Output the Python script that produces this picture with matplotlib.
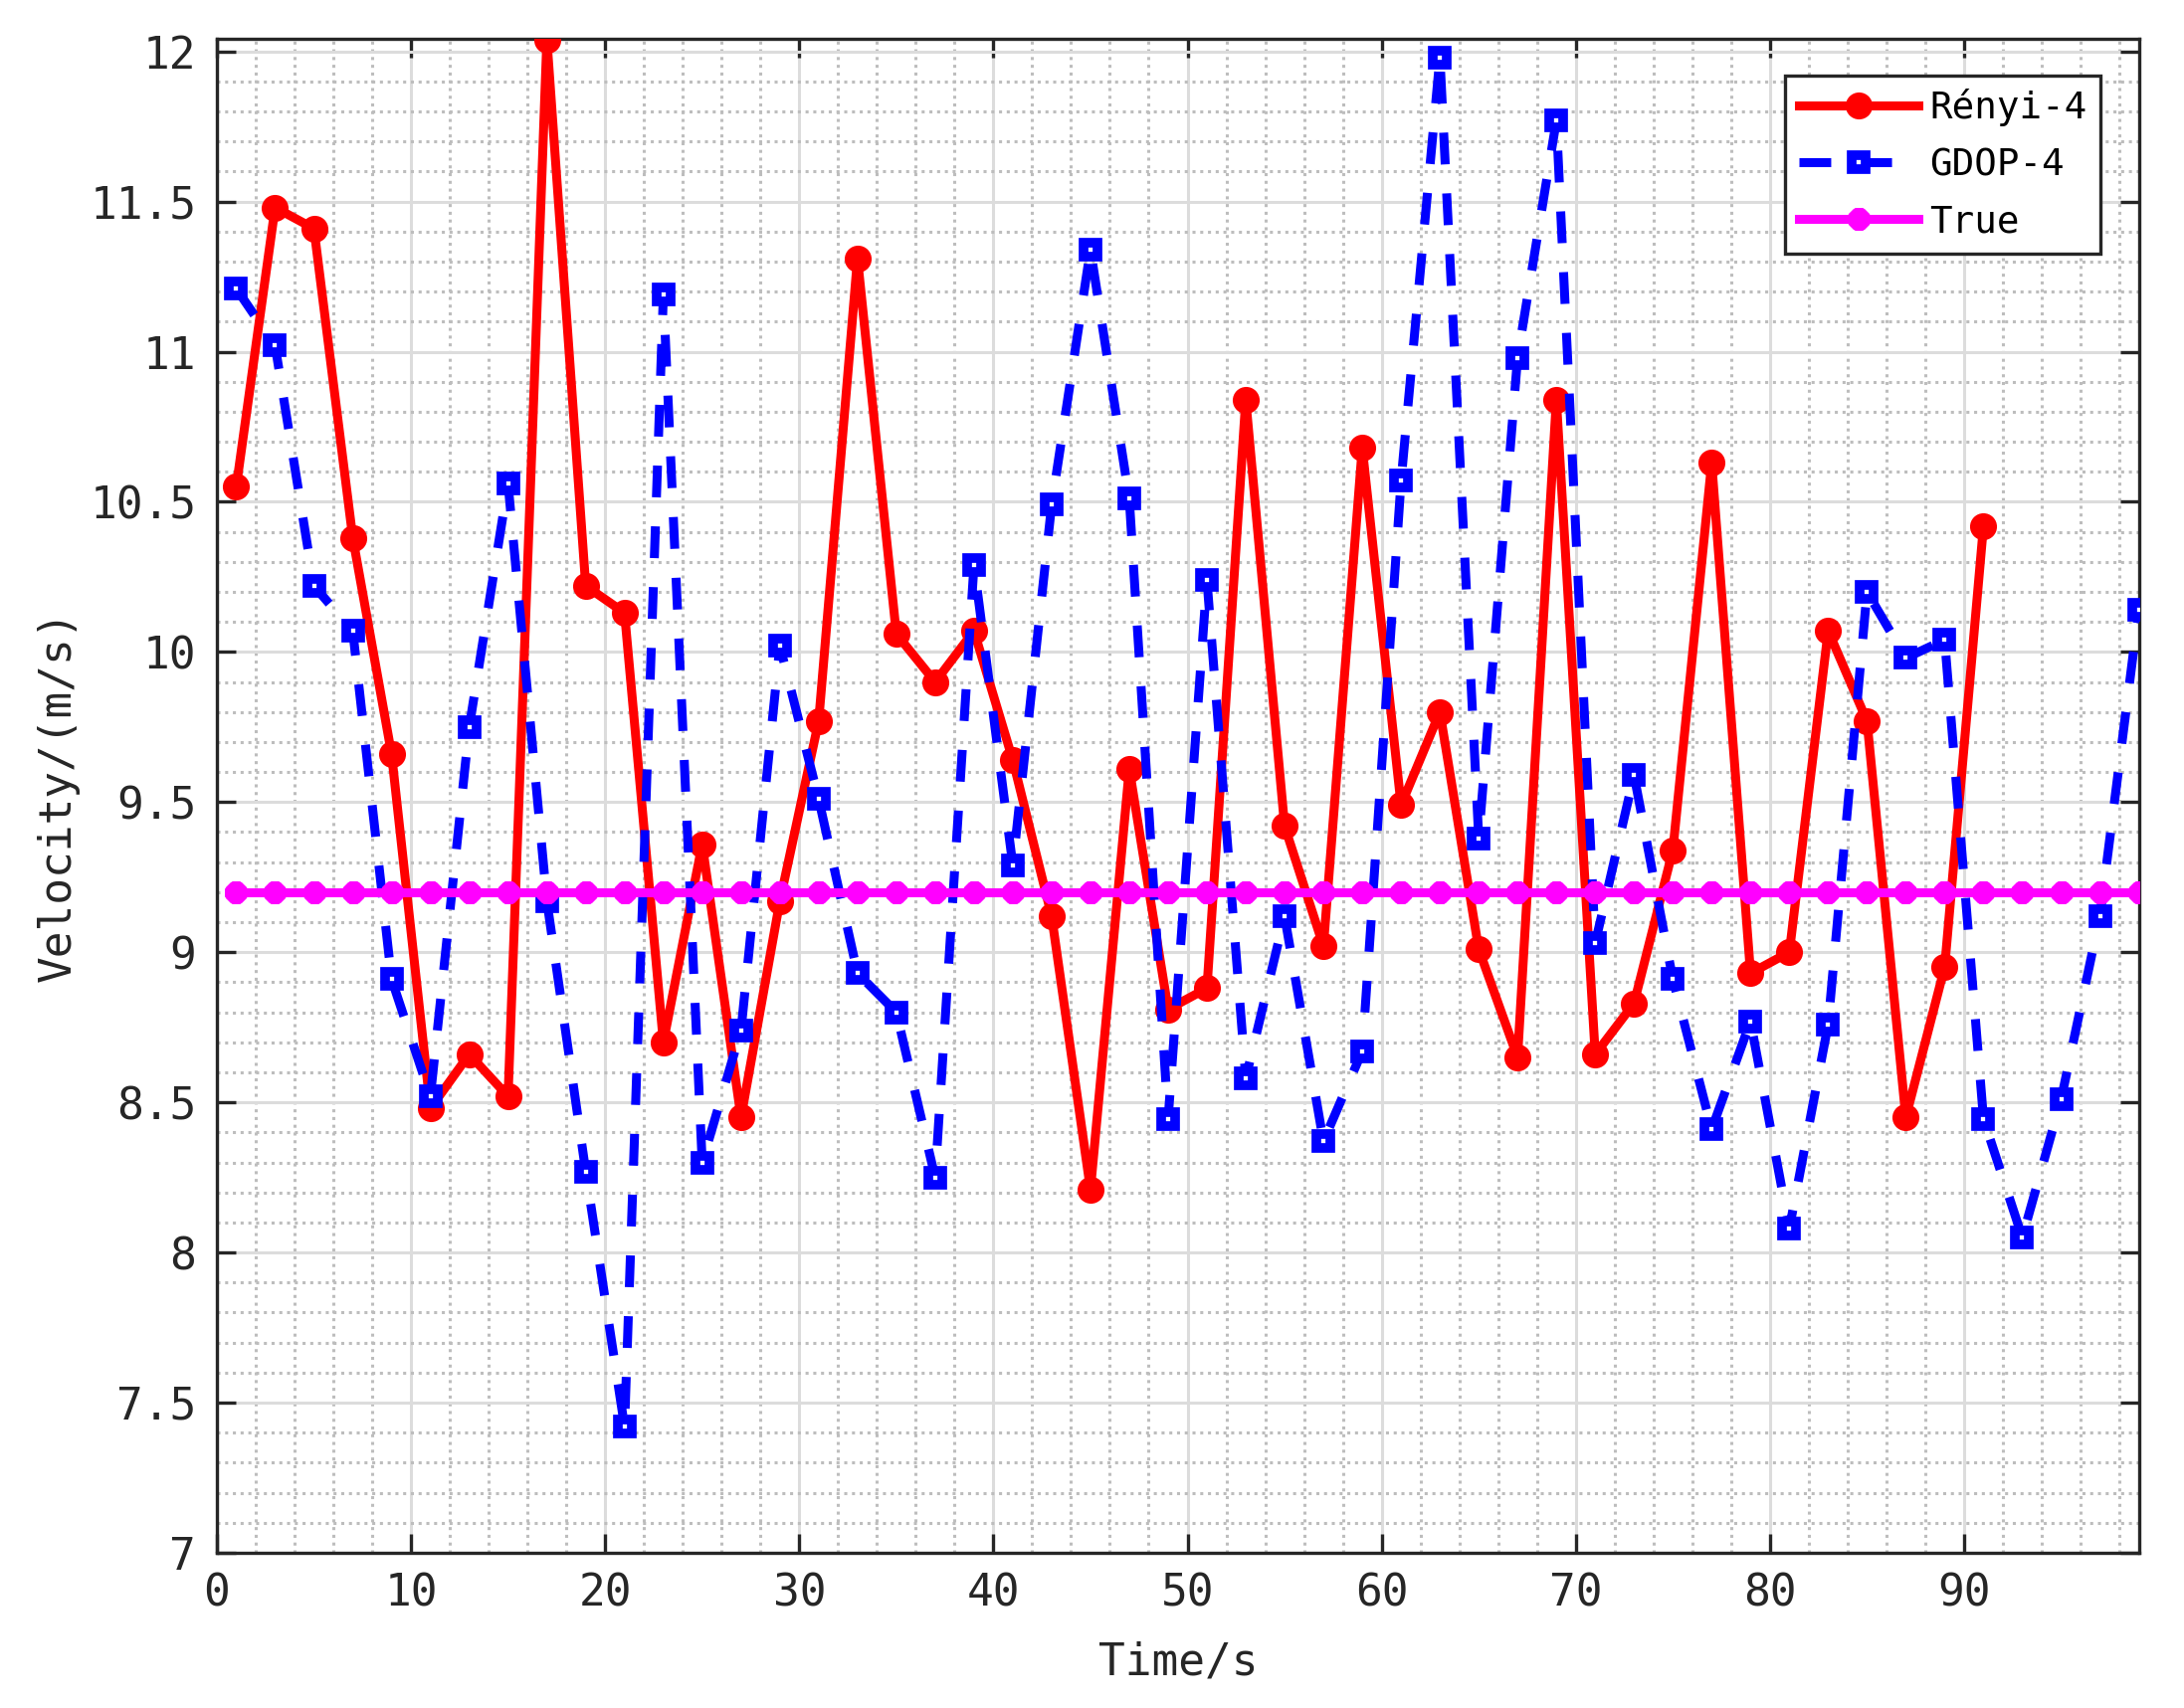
import matplotlib
matplotlib.use('Agg')
import matplotlib.pyplot as plt
from matplotlib.ticker import MultipleLocator, FormatStrFormatter

time_renyi = [1, 3, 5, 7, 9, 11, 13, 15, 17, 19, 21, 23, 25, 27, 29, 31, 33, 35, 37, 39,
              41, 43, 45, 47, 49, 51, 53, 55, 57, 59, 61, 63, 65, 67, 69, 71, 73, 75, 77, 79,
              81, 83, 85, 87, 89, 91]
renyi_v = [10.55, 11.48, 11.41, 10.38, 9.66, 8.48, 8.66, 8.52, 12.04, 10.22,
           10.13, 8.70, 9.36, 8.45, 9.17, 9.77, 11.31, 10.06, 9.90, 10.07,
           9.64, 9.12, 8.21, 9.61, 8.81, 8.88, 10.84, 9.42, 9.02, 10.68,
           9.49, 9.80, 9.01, 8.65, 10.84, 8.66, 8.83, 9.34, 10.63, 8.93,
           9.00, 10.07, 9.77, 8.45, 8.95, 10.42]

time_all = [1, 3, 5, 7, 9, 11, 13, 15, 17, 19, 21, 23, 25, 27, 29, 31, 33, 35, 37, 39,
            41, 43, 45, 47, 49, 51, 53, 55, 57, 59, 61, 63, 65, 67, 69, 71, 73, 75, 77, 79,
            81, 83, 85, 87, 89, 91, 93, 95, 97, 99]
gdop_v = [11.21, 11.02, 10.22, 10.07, 8.91, 8.52, 9.75, 10.56, 9.17, 8.27,
          7.42, 11.19, 8.30, 8.74, 10.02, 9.51, 8.93, 8.80, 8.25, 10.29,
          9.29, 10.49, 11.34, 10.51, 8.445, 10.24, 8.58, 9.12, 8.37, 8.67,
          10.57, 11.98, 9.38, 10.98, 11.77, 9.03, 9.59, 8.91, 8.41, 8.77,
          8.08, 8.76, 10.20, 9.98, 10.04, 8.445, 8.05, 8.51, 9.12, 10.14]
true_v = [9.2] * len(time_all)

labels = ['Rényi-4', 'GDOP-4', 'True']
x_ticks = [0, 10, 20, 30, 40, 50, 60, 70, 80, 90]
y_ticks = [7, 7.5, 8, 8.5, 9, 9.5, 10, 10.5, 11, 11.5, 12]

plt.rcParams['lines.scale_dashes'] = False
mono = ['DejaVu Sans Mono']
tick_col = '#262626'

fig = plt.figure(figsize=(21.95, 17.17), dpi=100)
ax = fig.add_axes([0.0993, 0.0909, 0.880, 0.8864])

ax.plot(time_renyi, renyi_v, color='#ff0000', lw=6.5, marker='o', ms=18,
        mfc='#ff0000', mec='#ff0000', mew=1.5, label=labels[0], zorder=3)
ax.plot(time_all, gdop_v, color='#0000ff', lw=6.5, dashes=(23, 21), marker='s', ms=9.5,
        mfc='white', mec='#0000ff', mew=7, label=labels[1], zorder=4)
ax.plot(time_all, true_v, color='#ff00ff', lw=6.5, marker=(8, 2, 0), ms=16,
        mec='#ff00ff', mew=6, label=labels[2], zorder=5)

ax.set_xlim(0, 99)
ax.set_ylim(7, 12.042)
ax.set_xticks(x_ticks)
ax.set_yticks(y_ticks)
ax.yaxis.set_major_formatter(FormatStrFormatter('%g'))
ax.xaxis.set_minor_locator(MultipleLocator(2))
ax.yaxis.set_minor_locator(MultipleLocator(0.1))

ax.grid(which='major', color='#dcdcdc', lw=2.2, ls='-', zorder=0)
ax.grid(which='minor', color='#bdbdbd', lw=2.2, ls=(0, (2.2, 3.4)), zorder=0)
ax.set_axisbelow(True)

ax.tick_params(which='major', direction='in', length=13.7, width=2.4, color=tick_col,
               top=True, right=True, labelcolor=tick_col)
ax.tick_params(which='minor', length=0, top=True, right=True)
ax.tick_params(axis='y', pad=15)
ax.tick_params(axis='x', pad=14)
for lab in ax.get_yticklabels():
    lab.set_family(mono)
    lab.set_fontsize(32)
for lab in ax.get_xticklabels():
    lab.set_family(mono)
    lab.set_fontsize(32)
for sp in ax.spines.values():
    sp.set_linewidth(2.4)
    sp.set_color(tick_col)

ax.set_xlabel('Time/s', family=mono, fontsize=32, color=tick_col)
ax.set_ylabel('Velocity/(m/s)', family=mono, fontsize=32, color=tick_col)
ax.xaxis.set_label_coords(0.5, -0.058)
ax.yaxis.set_label_coords(-0.0714, 0.5)

leg = ax.legend(loc='upper right', bbox_to_anchor=(0.980, 0.976), borderaxespad=0,
                prop={'family': mono, 'size': 27}, fancybox=False, framealpha=1,
                edgecolor='#262626', handlelength=3.2, handletextpad=0.3,
                borderpad=0.36, labelspacing=0.56, numpoints=1)
leg.get_frame().set_linewidth(2.4)

fig.savefig('out.png', dpi=100)
